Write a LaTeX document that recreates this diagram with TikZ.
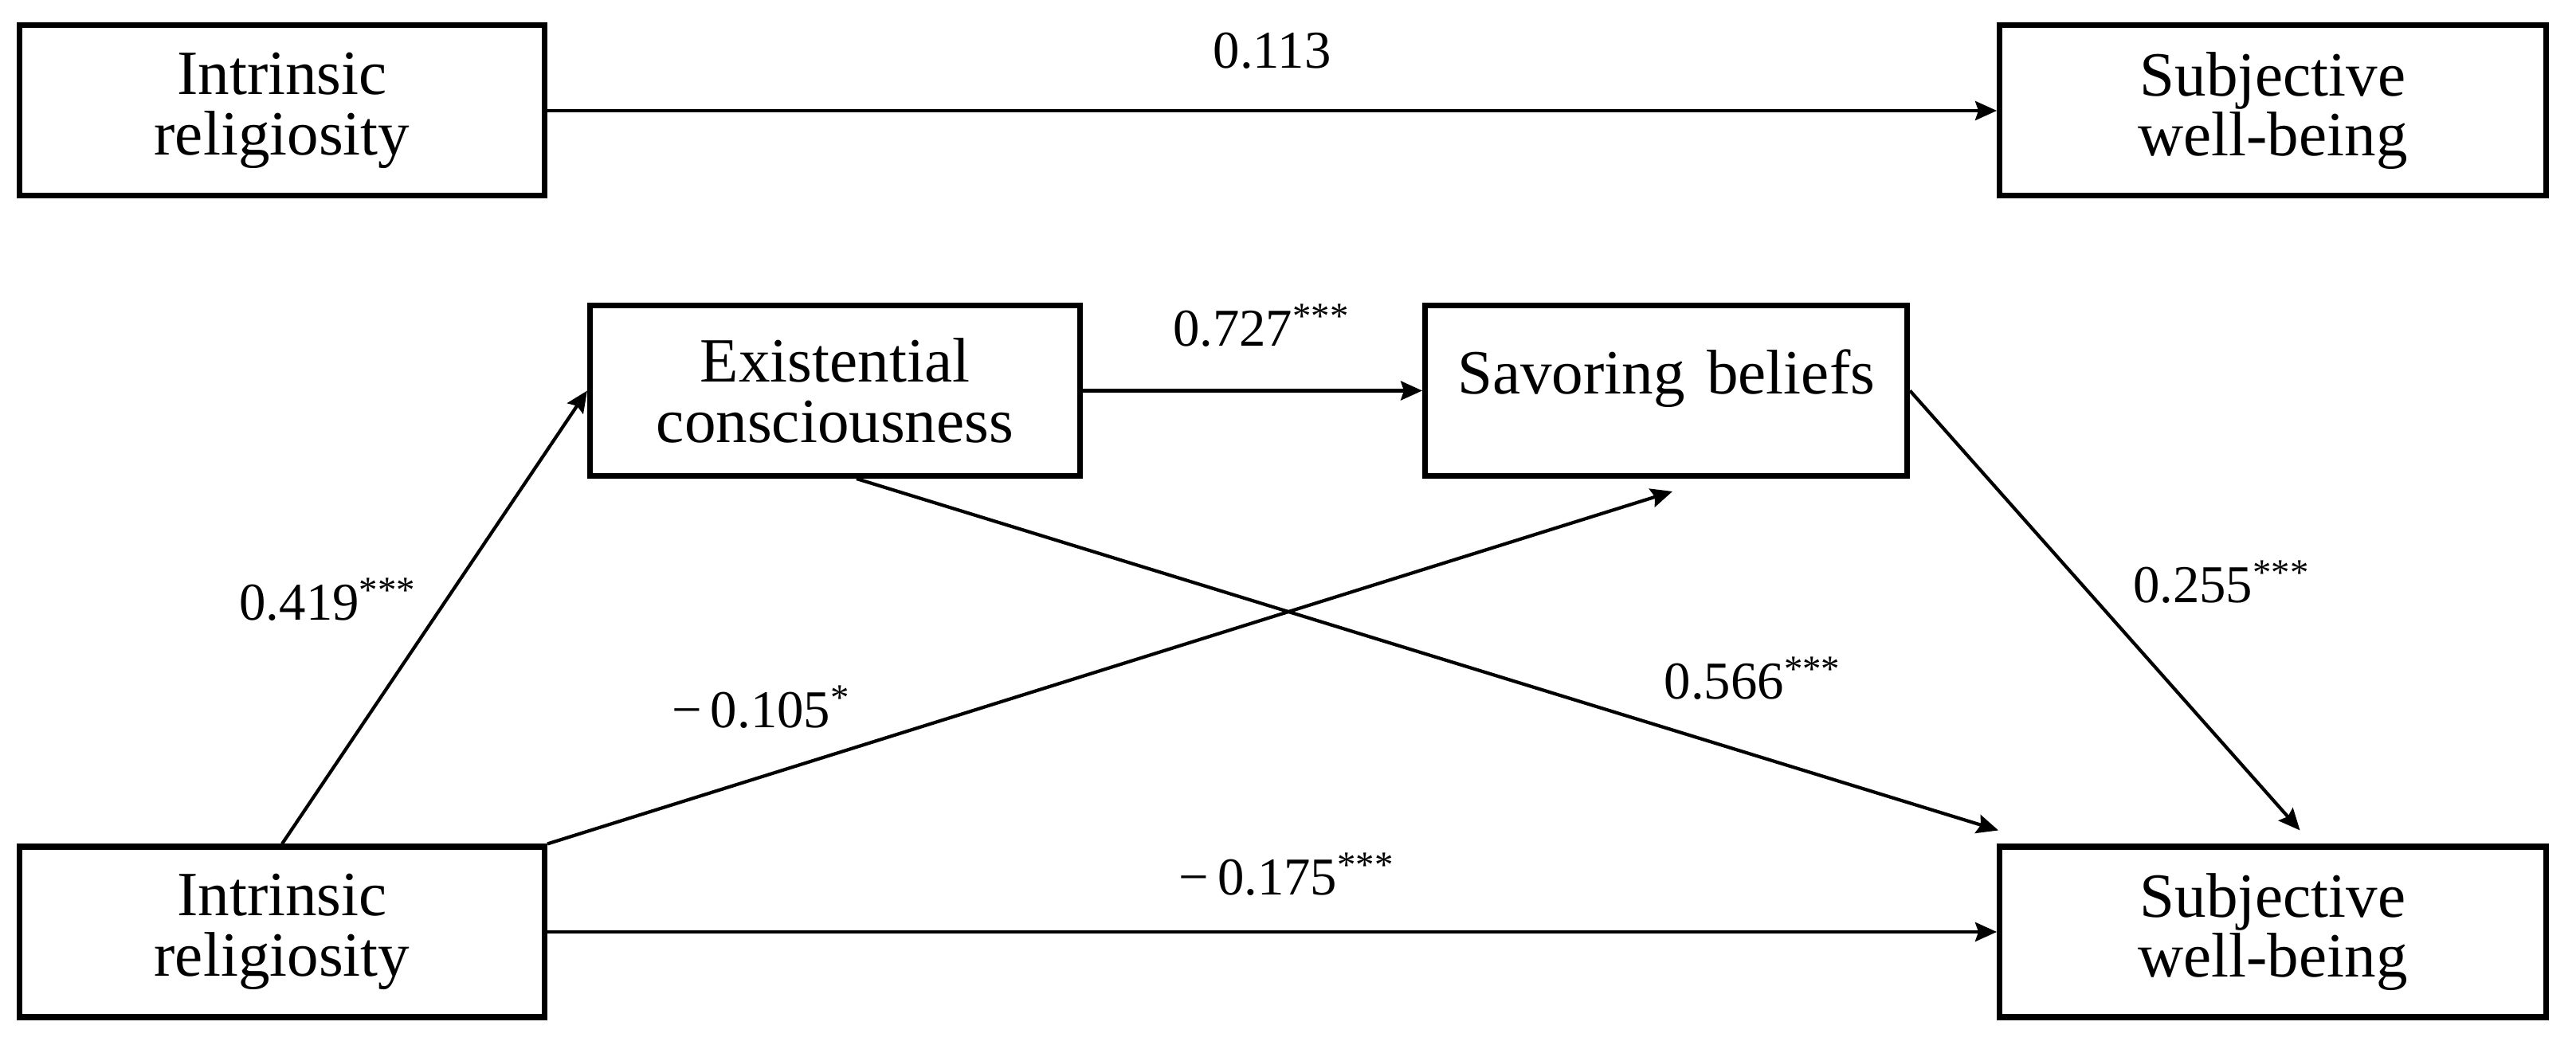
\documentclass[tikz,border=0pt]{standalone}
\usepackage{fontspec}
\setmainfont{Liberation Serif}
\usepackage{tikz}
\usetikzlibrary{positioning, arrows.meta}

\begin{document}
\begin{tikzpicture}[box/.style={draw, rectangle, align=center, line width=2pt, minimum height=2.14cm, minimum width=6.59cm, font=\fontsize{22.5}{21.5}\selectfont}, arrow/.style={draw, -{Stealth[length=0.27cm, width=0.24cm, inset=0.04cm]}, line width=1.2pt}, lbl/.style={inner sep=0pt, font=\fontsize{19}{19}\selectfont}]
    \useasboundingbox (0,0) rectangle (32.33,13.17);
    % nodes
    \node[box] (IR1) at (3.54,11.78) {Intrinsic\\religiosity};
    \node[box, minimum width=6.86cm] (SWB1) [right=18.19cm of IR1] {Subjective\\well-being};
    \node[box, minimum width=6.15cm] (Exist) at (10.48,8.265) {Existential\\consciousness};
    \node[box, minimum width=6.05cm, text depth=0.47cm] (Sav) [right=4.26cm of Exist] {Savoring\hspace{0.35em}beliefs};
    \node[box] (IR2) at (3.54,1.47) {Intrinsic\\religiosity};
    \node[box, minimum width=6.86cm] (SWB2) [right=18.19cm of IR2] {Subjective\\well-being};

    \coordinate (savin) at ([xshift=0.08cm, yshift=-0.16cm]Sav.south);
    \coordinate (exout) at ([xshift=0.27cm]Exist.south);
    \coordinate (swbin) at ([xshift=0.02cm, yshift=0.17cm]SWB2.north west);
    \coordinate (swbtop) at ([xshift=0.34cm, yshift=0.17cm]SWB2.north);

    % arrows
    \draw[arrow] (IR1) -- node[lbl, above=0.5cm] {0.113} (SWB1);
    \draw[arrow] (IR2.north) -- node[lbl, pos=0.54, left=0.36cm] {0.419\textsuperscript{***}} (Exist.west);
    \draw[arrow] (Exist) -- node[lbl, pos=0.526, above=0.53cm] {0.727\textsuperscript{***}} (Sav);
    \draw[arrow] (IR2.north east) -- node[lbl, pos=0.19, above=0.59cm] {−\,0.105\textsuperscript{*}} (savin);
    \draw[arrow] (exout) -- node[lbl, pos=0.785, above=0.67cm] {0.566\textsuperscript{***}} (swbin);
    \draw[arrow] (Sav.east) -- node[lbl, pos=0.435, right=0.65cm] {0.255\textsuperscript{***}} (swbtop);
    \draw[arrow] (IR2) -- node[lbl, pos=0.51, above=0.43cm] {−\,0.175\textsuperscript{***}} (SWB2);
\end{tikzpicture}
\end{document}
